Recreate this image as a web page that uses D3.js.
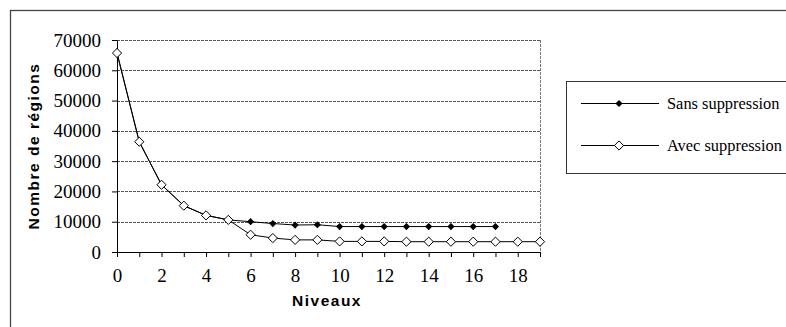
<!DOCTYPE html>
<html><head><meta charset="utf-8">
<script src="https://cdn.jsdelivr.net/npm/d3@7"></script>
<style>
html,body{margin:0;padding:0;background:#fff;}
svg{display:block;}
</style></head>
<body>
<script>
const levels = d3.range(0, 20);
const avecValues = [65700, 36400, 22200, 15300, 12100, 10600, 5700, 4600, 4000, 4000, 3500, 3500, 3500, 3400, 3400, 3400, 3400, 3400, 3400, 3400];
const sansValues = [65700, 36400, 22200, 15300, 12100, 10600, 10000, 9400, 8900, 9000, 8400, 8400, 8400, 8400, 8400, 8400, 8400, 8400];
const yTicks = [0, 10000, 20000, 30000, 40000, 50000, 60000, 70000];
const xTickLabels = [0, 2, 4, 6, 8, 10, 12, 14, 16, 18];
const seriesNames = ["Sans suppression", "Avec suppression"];

const SERIF = "Liberation Serif";
const SANS = "Liberation Sans";

const W = 786, H = 327;
const svg = d3.select("body").append("svg").attr("width", W).attr("height", H);

// outer frame
svg.append("rect").attr("x", 10.5).attr("y", 10.5).attr("width", 800).attr("height", 340)
  .attr("fill", "none").attr("stroke", "#444").attr("stroke-width", 1.3);

const x = d3.scaleLinear().domain([0, 19]).range([117, 540]);
const y = d3.scaleLinear().domain([0, 70000]).range([252, 40]);

// gridlines
svg.append("g").selectAll("line").data(yTicks.filter(d => d > 0)).join("line")
  .attr("x1", x(0)).attr("x2", x(19))
  .attr("y1", d => Math.round(y(d)) + 0.5).attr("y2", d => Math.round(y(d)) + 0.5)
  .attr("stroke", "#555").attr("stroke-width", 1).attr("stroke-dasharray", "3,1");
// right edge
svg.append("line").attr("x1", x(19) + 0.5).attr("x2", x(19) + 0.5).attr("y1", y(70000)).attr("y2", y(0))
  .attr("stroke", "#777").attr("stroke-dasharray", "3,1");

// axes
const yAxis = d3.axisLeft(y).tickValues(yTicks).tickSize(5).tickSizeOuter(0).tickPadding(11).tickFormat(d3.format("d"));
const gy = svg.append("g").attr("transform", `translate(${x(0)},0)`).call(yAxis);
gy.attr("font-family", SERIF).attr("font-size", 19);
gy.selectAll("text").style("font-family", SERIF).style("font-size", "19px").attr("fill", "#000");
gy.select(".domain").attr("stroke", "#000");
gy.selectAll(".tick line").attr("stroke", "#000");

const xAxis = d3.axisBottom(x).tickValues(levels).tickSize(5).tickSizeOuter(0).tickPadding(12)
  .tickFormat(d => xTickLabels.includes(d) ? String(d) : "");
const gx = svg.append("g").attr("transform", `translate(0,${y(0)})`).call(xAxis);
gx.attr("font-family", SERIF).attr("font-size", 19);
gx.selectAll("text").style("font-family", SERIF).style("font-size", "19px").attr("fill", "#000");
gx.select(".domain").attr("stroke", "#000");
gx.selectAll(".tick line").attr("stroke", "#000");

// titles
svg.append("text").attr("transform", `translate(39,146) rotate(-90)`).attr("text-anchor", "middle")
  .style("font-family", SANS).style("font-weight", "bold").style("font-size", "15.5px")
  .style("letter-spacing", "1.5px").text("Nombre de régions");
svg.append("text").attr("x", 327).attr("y", 306).attr("text-anchor", "middle")
  .style("font-family", SANS).style("font-weight", "bold").style("font-size", "15.5px")
  .style("letter-spacing", "1.5px").text("Niveaux");

const line = d3.line().x((d, i) => x(i)).y(d => y(d));
const diamond = (s) => `M0,${-s}L${s},0L0,${s}L${-s},0Z`;

// Sans series
svg.append("path").datum(sansValues).attr("d", line).attr("fill", "none").attr("stroke", "#000").attr("stroke-width", 1);
svg.append("g").selectAll("path").data(sansValues).join("path")
  .attr("transform", (d, i) => `translate(${x(i)},${y(d)})`).attr("d", diamond(3.6)).attr("fill", "#000");

// Avec series
svg.append("path").datum(avecValues).attr("d", line).attr("fill", "none").attr("stroke", "#000").attr("stroke-width", 1);
svg.append("g").selectAll("path").data(avecValues).join("path")
  .attr("transform", (d, i) => `translate(${x(i)},${y(d)})`).attr("d", diamond(4.6))
  .attr("fill", "#fff").attr("stroke", "#000").attr("stroke-width", 1);

// legend
const lg = svg.append("g");
lg.append("rect").attr("x", 566.5).attr("y", 81.5).attr("width", 240).attr("height", 92)
  .attr("fill", "#fff").attr("stroke", "#333").attr("stroke-width", 1);
const rows = [103, 145];
seriesNames.forEach((name, i) => {
  const ry = rows[i];
  lg.append("line").attr("x1", 581).attr("x2", 659).attr("y1", ry + 0.5).attr("y2", ry + 0.5).attr("stroke", "#000");
  if (i === 0) {
    lg.append("path").attr("transform", `translate(619,${ry + 0.5})`).attr("d", diamond(3.6)).attr("fill", "#000");
  } else {
    lg.append("path").attr("transform", `translate(619,${ry + 0.5})`).attr("d", diamond(4.6)).attr("fill", "#fff").attr("stroke", "#000");
  }
  lg.append("text").attr("x", 667).attr("y", ry + 5.5).style("font-family", SERIF)
    .style("font-size", "16.4px").attr("fill", "#000").text(name);
});
</script>
</body></html>
